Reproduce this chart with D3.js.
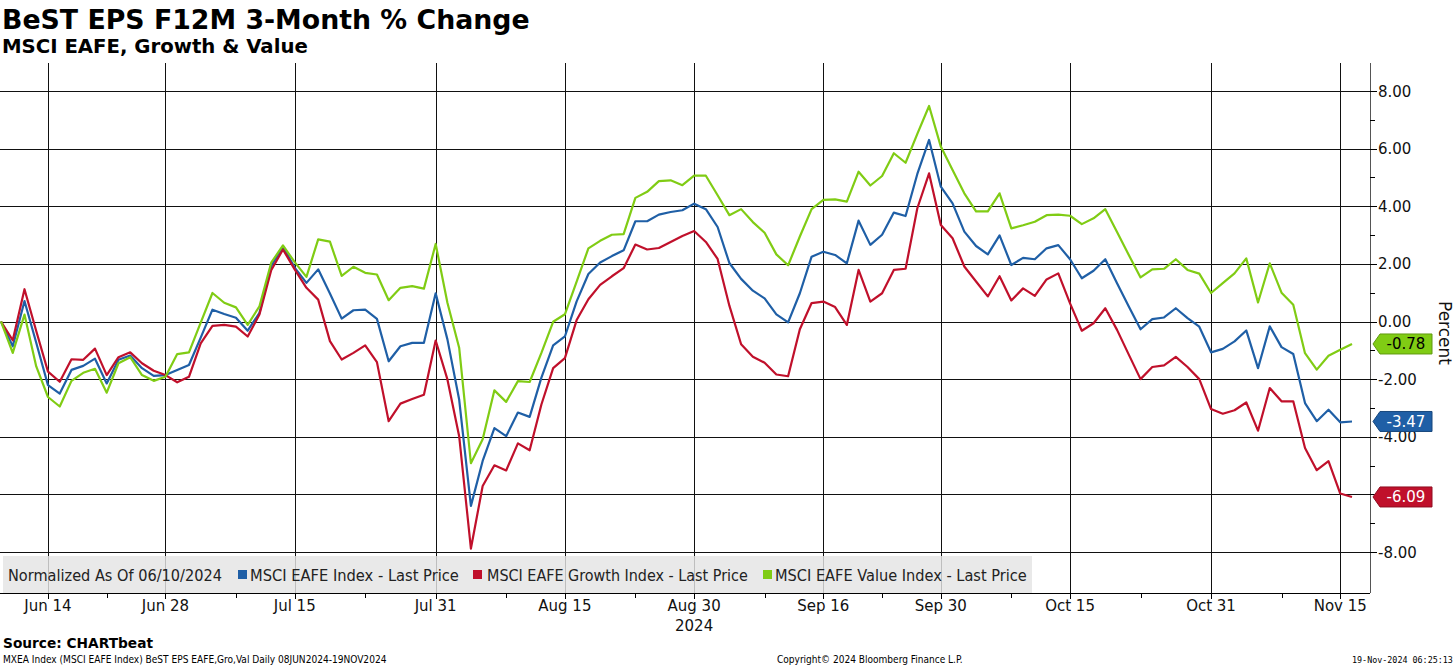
<!DOCTYPE html>
<html><head><meta charset="utf-8">
<script src="https://cdn.jsdelivr.net/npm/d3@7"></script>
<style>body{margin:0;background:#fff;} svg{display:block;font-family:"DejaVu Sans",Verdana,sans-serif;}</style>
</head><body><svg id="c" width="1456" height="666"></svg>
<script>
const startDate = "2024-06-10", endDate = "2024-11-18";
const tickDates = ["2024-06-14","2024-06-28","2024-07-15","2024-07-31","2024-08-15","2024-08-30","2024-09-16","2024-09-30","2024-10-15","2024-10-31","2024-11-15"];
const tickLabels = ["Jun 14","Jun 28","Jul 15","Jul 31","Aug 15","Aug 30","Sep 16","Sep 30","Oct 15","Oct 31","Nov 15"];
const yearLabel = "2024", yearUnder = "Aug 30";
const yTicks = [8,6,4,2,0,-2,-4,-6,-8];
const yMinor = [7,5,3,1,-1,-3,-5,-7];

const eafe = [0,-0.86,0.71,-0.74,-2.21,-2.5,-1.68,-1.54,-1.29,-2.15,-1.33,-1.18,-1.62,-1.89,-1.86,-1.68,-1.51,-0.56,0.41,0.26,
0.13,-0.32,0.30,1.92,2.6,1.87,1.34,1.81,0.97,0.10,0.39,0.41,0.09,-1.38,-0.86,-0.74,-0.74,0.98,-0.62,-2.71,
-6.4,-4.84,-3.7,-3.98,-3.16,-3.31,-1.95,-0.83,-0.52,0.7,1.65,2.05,2.27,2.47,3.48,3.48,3.71,3.8,3.86,4.09,
3.9,3.28,2.03,1.48,1.07,0.8,0.25,-0.03,0.98,2.25,2.42,2.31,2.02,3.5,2.66,3.01,3.78,3.66,5.12,6.3,
4.68,4.1,3.12,2.62,2.33,2.99,1.96,2.21,2.16,2.54,2.65,2.16,1.5,1.76,2.16,1.33,0.52,-0.27,0.08,0.14,
0.46,0.12,-0.18,-1.07,-0.95,-0.69,-0.31,-1.62,-0.17,-0.89,-1.13,-2.83,-3.46,-3.06,-3.5,-3.47];
const growth = [0,-0.65,1.12,-0.33,-1.74,-2.09,-1.31,-1.33,-0.94,-1.86,-1.24,-1.07,-1.45,-1.71,-1.86,-2.11,-1.92,-0.76,-0.15,-0.12,
-0.18,-0.52,0.24,1.78,2.5,1.81,1.17,0.76,-0.68,-1.32,-1.09,-0.83,-1.41,-3.46,-2.85,-2.69,-2.54,-0.66,-2.01,-3.98,
-7.88,-5.71,-4.99,-5.17,-4.23,-4.47,-2.88,-1.62,-1.27,0.05,0.77,1.27,1.57,1.85,2.67,2.5,2.55,2.76,2.97,3.14,
2.76,2.17,0.55,-0.79,-1.22,-1.43,-1.84,-1.9,-0.27,0.64,0.69,0.5,-0.12,1.79,0.69,0.98,1.79,1.83,3.93,5.14,
3.35,2.89,1.91,1.39,0.87,1.57,0.73,1.15,0.89,1.46,1.67,0.63,-0.32,-0.06,0.46,-0.29,-1.15,-2.0,-1.58,-1.52,
-1.23,-1.58,-2.0,-3.04,-3.2,-3.08,-2.81,-3.79,-2.31,-2.77,-2.77,-4.39,-5.16,-4.85,-5.97,-6.09];
const valueIdx = [0,-1.09,0.24,-1.56,-2.62,-2.95,-2.06,-1.78,-1.64,-2.47,-1.45,-1.24,-1.86,-2.06,-1.92,-1.13,-1.07,-0.04,0.99,0.65,
0.49,-0.12,0.53,2.04,2.64,2.06,1.55,2.85,2.77,1.58,1.9,1.69,1.63,0.74,1.17,1.23,1.14,2.69,0.65,-0.91,
-4.92,-4.09,-2.39,-2.79,-2.07,-2.1,-1.09,-0.01,0.25,1.38,2.54,2.8,3.01,3.03,4.29,4.5,4.87,4.9,4.73,5.06,
5.06,4.38,3.69,3.9,3.45,3.08,2.33,1.95,2.95,3.9,4.22,4.24,4.16,5.2,4.72,5.05,5.84,5.51,6.51,7.48,
6.07,5.26,4.45,3.82,3.82,4.45,3.23,3.34,3.46,3.69,3.71,3.67,3.38,3.58,3.9,3.11,2.31,1.53,1.81,1.83,
2.16,1.79,1.66,0.99,1.33,1.67,2.19,0.66,2.02,1.0,0.58,-1.1,-1.67,-1.19,-0.98,-0.78];

const seriesNames = ["MSCI EAFE Index - Last Price","MSCI EAFE Growth Index - Last Price","MSCI EAFE Value Index - Last Price"];
const seriesColors = ["#1f5fa6","#c0102b","#80cc14"];
const tagText = ["#fff","#fff","#000"];
const legendPrefix = "Normalized As Of 06/10/2024";

const parse = d3.utcParse("%Y-%m-%d");
const dates = d3.utcDays(parse(startDate), d3.utcDay.offset(parse(endDate),1)).filter(d => d.getUTCDay()%6 !== 0);
const idxOf = s => dates.findIndex(d => +d === +parse(s));
const tickIdx = tickDates.map(idxOf);
const minorIdx = tickIdx.slice(1).map((t,i) => Math.ceil((t + tickIdx[i]) / 2));

const svg = d3.select("#c");
const L = 0, R = 1370, T = 63, B = 593;
const x = d3.scaleLinear().domain([0, dates.length-1]).range([1, 1352]);
const y = d3.scaleLinear().domain([-8, 8]).range([552, 91]);
const cr = v => Math.round(v) + 0.5;
const series = [eafe, growth, valueIdx];
const lastVals = series.map(s => s[s.length-1]);

function fit(sel, w){ const l = sel.node().getComputedTextLength(); const fs = parseFloat(sel.attr("font-size")); sel.attr("font-size", fs*w/l); return sel; }

// Title
fit(svg.append("text").attr("x",2).attr("y",29).attr("font-size",26).attr("font-weight","bold").text("BeST EPS F12M 3-Month % Change"), 528);
fit(svg.append("text").attr("x",2).attr("y",53).attr("font-size",18).attr("font-weight","bold").text("MSCI EAFE, Growth & Value"), 306);

// gridlines
const g = svg.append("g");
g.selectAll(".hg").data(yTicks).join("line")
  .attr("x1",L).attr("x2",R).attr("y1",d=>cr(y(d))).attr("y2",d=>cr(y(d))).attr("stroke","#111").attr("stroke-width",1);
g.selectAll(".vg").data(tickIdx).join("line")
  .attr("x1",d=>cr(x(d))).attr("x2",d=>cr(x(d))).attr("y1",T).attr("y2",B).attr("stroke","#111").attr("stroke-width",1);

// legend background (semi transparent, gridlines show through)
svg.append("rect").attr("x",3).attr("y",556).attr("width",1029).attr("height",37).attr("fill","#e4e4e4").attr("opacity",0.82);
const lg = svg.append("g").attr("font-family","'DejaVu Sans Condensed','DejaVu Sans',sans-serif").attr("fill","#222");
fit(lg.append("text").attr("x",8).attr("y",581).attr("font-size",15).text(legendPrefix), 214);
const legX = [[238,250,209],[473,487,261],[763,775,252]];
seriesNames.forEach((n,i)=>{
  lg.append("rect").attr("x",legX[i][0]).attr("y",570).attr("width",9).attr("height",9).attr("fill",seriesColors[i]);
  fit(lg.append("text").attr("x",legX[i][1]).attr("y",581).attr("font-size",15).text(n), legX[i][2]);
});

// series lines
const line = d3.line().x((d,i)=>x(i)).y(d=>y(d));
series.forEach((s,i)=>{
  svg.append("path").datum(s).attr("d",line).attr("fill","none").attr("stroke",seriesColors[i]).attr("stroke-width",2.2).attr("stroke-linejoin","round");
});

// x axis
svg.append("line").attr("x1",L).attr("x2",R).attr("y1",B+0.5).attr("y2",B+0.5).attr("stroke","#000");
svg.selectAll(".xt").data(tickIdx).join("line").attr("x1",d=>cr(x(d))).attr("x2",d=>cr(x(d))).attr("y1",B).attr("y2",B+6).attr("stroke","#000");
svg.selectAll(".xm").data(minorIdx).join("line").attr("x1",d=>cr(x(d))).attr("x2",d=>cr(x(d))).attr("y1",B).attr("y2",B+5).attr("stroke","#000");
svg.selectAll(".xl").data(tickIdx).join("text").attr("x",d=>x(d)).attr("y",611).attr("text-anchor","middle")
  .attr("font-size",15).attr("fill","#111").text((d,i)=>tickLabels[i]);
svg.append("text").attr("x",x(tickIdx[tickLabels.indexOf(yearUnder)])).attr("y",631).attr("text-anchor","middle").attr("font-size",15).attr("fill","#111").text(yearLabel);

// right axis
svg.append("line").attr("x1",R+0.5).attr("x2",R+0.5).attr("y1",T).attr("y2",B).attr("stroke","#555");
svg.selectAll(".yt").data(yTicks).join("line").attr("x1",R).attr("x2",R+7).attr("y1",d=>cr(y(d))).attr("y2",d=>cr(y(d))).attr("stroke","#000");
svg.selectAll(".ym").data(yMinor).join("line").attr("x1",R).attr("x2",R+5).attr("y1",d=>cr(y(d))).attr("y2",d=>cr(y(d))).attr("stroke","#000");
// tick labels fully hidden behind a value tag (as in the reference) are not drawn
const shownTicks = yTicks.filter(t => !lastVals.some(v => Math.abs(y(v) - y(t)) < 8));
svg.selectAll(".yl").data(shownTicks).join("text").attr("x",1378).attr("y",d=>y(d)+5.5).attr("font-size",15).attr("fill","#111")
  .text(d=>(d<0?"-":"")+Math.abs(d).toFixed(2));
svg.append("text").attr("transform","translate(1439,333) rotate(90)").attr("text-anchor","middle").attr("font-size",17).attr("fill","#111").text("Percent");

// value tags
series.forEach((s,i)=>{
  const v = lastVals[i], yy = y(v);
  const p = d3.path();
  p.moveTo(1373, yy); p.lineTo(1380, yy-10); p.lineTo(1432, yy-10); p.lineTo(1432, yy+10); p.lineTo(1380, yy+10); p.closePath();
  svg.append("path").attr("d",p.toString()).attr("fill",seriesColors[i]).attr("stroke",d3.color(seriesColors[i]).darker(0.8)).attr("stroke-width",1);
  svg.append("text").attr("x",1406).attr("y",yy+5.5).attr("text-anchor","middle").attr("font-size",15).attr("fill",tagText[i]).text(v.toFixed(2));
});

// footer
fit(svg.append("text").attr("x",3).attr("y",648).attr("font-size",13).attr("font-weight","bold").text("Source: CHARTbeat"), 150);
const ff = "'DejaVu Sans Condensed','DejaVu Sans',sans-serif";
fit(svg.append("text").attr("x",3).attr("y",663).attr("font-size",9).attr("font-family",ff).text("MXEA Index (MSCI EAFE Index) BeST EPS EAFE,Gro,Val  Daily 08JUN2024-19NOV2024"), 384);
fit(svg.append("text").attr("x",777).attr("y",663).attr("font-size",9).attr("font-family",ff).text("Copyright\u00a9 2024 Bloomberg Finance L.P."), 186);
fit(svg.append("text").attr("x",1352).attr("y",663).attr("font-size",9).attr("font-family","'DejaVu Sans Mono',monospace").text("19-Nov-2024 06:25:13"), 101);
</script></body></html>
